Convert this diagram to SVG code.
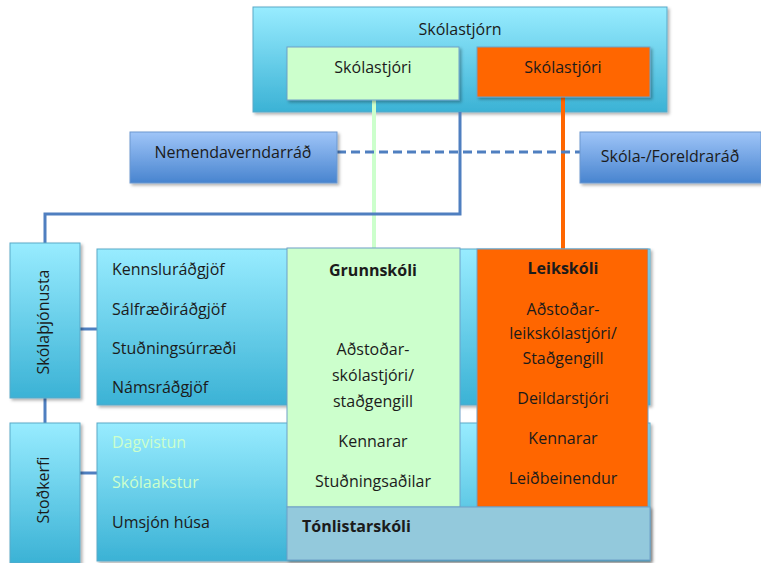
<svg xmlns="http://www.w3.org/2000/svg" width="761" height="563" viewBox="0 0 761 563">
<defs>
<linearGradient id="gc" x1="0" y1="0" x2="0" y2="1">
<stop offset="0" stop-color="#98ecff"/>
<stop offset="1" stop-color="#3bb2d5"/>
</linearGradient>
<linearGradient id="gb" x1="0" y1="0" x2="0" y2="1">
<stop offset="0" stop-color="#9fc5f8"/>
<stop offset="1" stop-color="#4884cf"/>
</linearGradient>
<filter id="sh" x="-10%" y="-10%" width="130%" height="130%">
<feDropShadow dx="2" dy="2" stdDeviation="1.5" flood-color="#000" flood-opacity="0.3"/>
</filter>
</defs>
<style>
text{font-family:"Open Sans","Liberation Sans",sans-serif;font-size:16px;fill:#1b1b1b}
.c{text-anchor:middle}
.b{font-weight:bold}
.lg{fill:#ccffcc}
.cy{fill:url(#gc);stroke:#5aa9c8;stroke-width:1;filter:url(#sh)}
.bl{fill:url(#gb);stroke:#6d98cf;stroke-width:1;filter:url(#sh)}
.con{fill:none;stroke:#4f7fc0;stroke-width:3}
</style>
<rect width="761" height="563" fill="#ffffff"/>

<g id="skolastjorn">
<rect class="cy" x="253" y="7" width="414" height="105"/>
<text class="c" x="460" y="35">Skólastjórn</text>
</g>

<g id="connectors">
<line x1="374" y1="100" x2="374" y2="249" stroke="#ccffcc" stroke-width="4"/>
<line x1="563" y1="97" x2="563" y2="249" stroke="#ff6600" stroke-width="4"/>
<polyline class="con" points="460,112 460,214 45,214 45,243"/>
<line class="con" x1="337" y1="152" x2="580" y2="152" stroke-dasharray="9,5"/>
<line class="con" x1="80" y1="329" x2="97" y2="329"/>
<line class="con" x1="45" y1="398" x2="45" y2="423"/>
<line class="con" x1="80" y1="473" x2="97" y2="473"/>
</g>

<g id="skolastjori-grunn">
<rect x="287" y="47" width="172" height="53" fill="#ccffcc" stroke="#6fa0c8" stroke-width="1" filter="url(#sh)"/>
<text class="c" x="373" y="73">Skólastjóri</text>
</g>
<g id="skolastjori-leik">
<rect x="477" y="47" width="173" height="50" fill="#ff6600" stroke="#6fa0c8" stroke-width="1" filter="url(#sh)"/>
<text class="c" x="563" y="73">Skólastjóri</text>
</g>

<g id="nemendaverndarrad">
<rect class="bl" x="130" y="132" width="207" height="51"/>
<text class="c" x="233" y="158">Nemendaverndarráð</text>
</g>
<g id="skola-foreldrarad">
<rect class="bl" x="580" y="132" width="181" height="51"/>
<text class="c" x="670" y="162">Skóla-/Foreldraráð</text>
</g>

<g id="skolathjonusta">
<rect class="cy" x="10" y="243" width="70" height="155"/>
<text class="c" transform="translate(49,322) rotate(-90)">Skólaþjónusta</text>
</g>
<g id="thjonusta-box">
<rect class="cy" x="97" y="249" width="553" height="156"/>
<text x="112" y="275">Kennsluráðgjöf</text>
<text x="112" y="315">Sálfræðiráðgjöf</text>
<text x="112" y="354">Stuðningsúrræði</text>
<text x="112" y="393">Námsráðgjöf</text>
</g>

<g id="stodkerfi">
<rect class="cy" x="10" y="423" width="70" height="140"/>
<text class="c" transform="translate(49,490) rotate(-90)">Stoðkerfi</text>
</g>
<g id="stodkerfi-box">
<rect class="cy" x="97" y="423" width="553" height="138"/>
<text class="lg" x="112" y="448">Dagvistun</text>
<text class="lg" x="112" y="488">Skólaakstur</text>
<text x="112" y="528">Umsjón húsa</text>
</g>

<g id="grunnskoli">
<rect x="287" y="248" width="173" height="259" fill="#ccffcc" stroke="#6fa0c8" stroke-width="1"/>
<text class="c b" x="373" y="276">Grunnskóli</text>
<text class="c" x="373" y="355">Aðstoðar-</text>
<text class="c" x="373" y="381">skólastjóri/</text>
<text class="c" x="373" y="407">staðgengill</text>
<text class="c" x="373" y="447">Kennarar</text>
<text class="c" x="373" y="487">Stuðningsaðilar</text>
</g>

<g id="leikskoli">
<rect x="477" y="249" width="171" height="258" fill="#ff6600" stroke="#6fa0c8" stroke-width="1"/>
<text class="c b" x="563" y="274">Leikskóli</text>
<text class="c" x="563" y="315">Aðstoðar-</text>
<text class="c" x="563" y="339">leikskólastjóri/</text>
<text class="c" x="563" y="364">Staðgengill</text>
<text class="c" x="563" y="404">Deildarstjóri</text>
<text class="c" x="563" y="444">Kennarar</text>
<text class="c" x="563" y="484">Leiðbeinendur</text>
</g>

<g id="tonlistarskoli">
<rect x="287" y="507" width="363" height="53" fill="#93c9dc" stroke="#6fa0c8" stroke-width="1" filter="url(#sh)"/>
<text class="b" x="302" y="532">Tónlistarskóli</text>
</g>
</svg>
